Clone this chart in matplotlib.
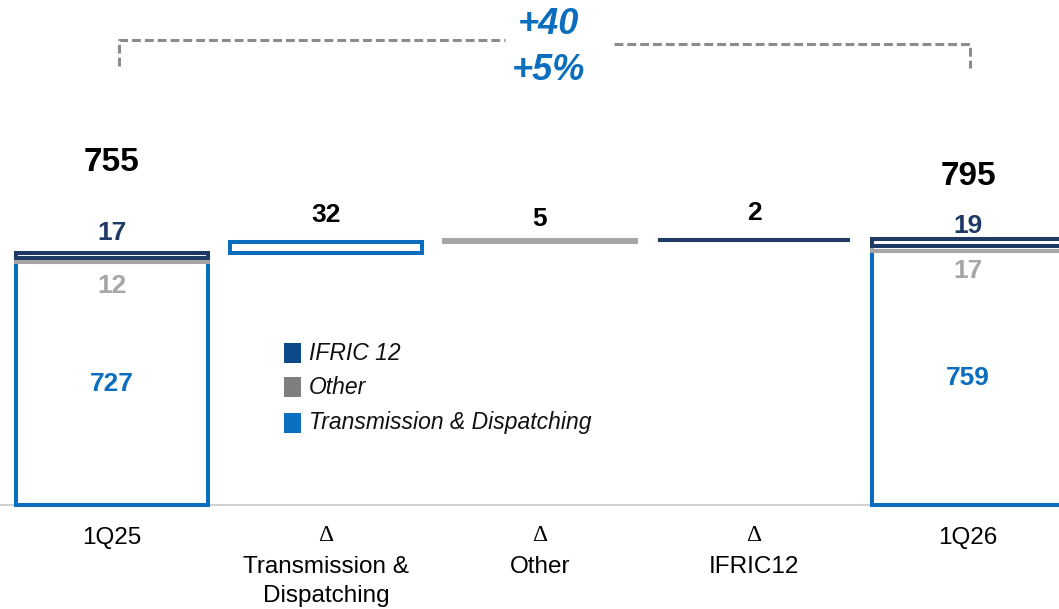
import matplotlib
matplotlib.use('Agg')
import matplotlib.pyplot as plt
from matplotlib.patches import Rectangle

plt.rcParams['font.family'] = ['Liberation Sans', 'DejaVu Sans']

# data
categories = ['1Q25', 'Transmission &\nDispatching', 'Other', 'IFRIC12', '1Q26']
is_delta = [False, True, True, True, False]
start_parts = [727, 12, 17]      # T&D, Other, IFRIC 12
end_parts = [759, 17, 19]
totals = [755, 795]
deltas = [32, 5, 2]
legend_names = ['IFRIC 12', 'Other', 'Transmission & Dispatching']

blue = '#0b6dbd'
navy = '#1f3a64'
gray_bar = '#a6a6a6'
gray_txt = '#a6a6a6'

fig = plt.figure(figsize=(10.59, 6.09), dpi=100)
ax = fig.add_axes([0, 104 / 609, 1, 505 / 609])
ax.set_xlim(-0.523, 4.425)
ax.set_ylim(0, 1512)
ax.axis('off')
ax.axhline(0, color='#c8c8c8', lw=1.2, clip_on=False, zorder=1)

W = 0.9
LW = 2.9


def stacked(x, parts, total):
    td, oth, ifr = parts
    ax.bar(x, td, width=W, bottom=0, facecolor='white', edgecolor=blue, lw=LW, zorder=3,
           clip_on=False)
    ax.bar(x, oth, width=W, bottom=td, facecolor='white', edgecolor=gray_bar, lw=LW, zorder=3)
    ax.bar(x, ifr, width=W, bottom=td + oth, facecolor='white', edgecolor=navy, lw=LW, zorder=4)
    top = td + oth + ifr
    ax.annotate(str(total), (x, total), xytext=(0, 65 if x == 0 else 45), textcoords='offset points',
                ha='center', va='center', fontsize=24, fontweight='bold', color='black')
    ax.annotate(str(ifr), (x, top), xytext=(0, 14 if x == 0 else 9.5), textcoords='offset points',
                ha='center', va='center', fontsize=19, fontweight='bold', color=navy)
    ax.annotate(str(oth), (x, td), xytext=(0, -17.5 if x == 0 else -14), textcoords='offset points',
                ha='center', va='center', fontsize=19, fontweight='bold', color=gray_txt)
    ax.text(x, td / 2, str(td), ha='center', va='center', fontsize=19, fontweight='bold', color=blue)


stacked(0, start_parts, totals[0])
stacked(4, end_parts, totals[1])

# waterfall deltas
styles = [('white', blue), (gray_bar, gray_bar), (navy, navy)]
offs = [19.5, 15.5, 19.5]
base = totals[0]
for i, d in enumerate(deltas):
    fc, ec = styles[i]
    ax.bar(i + 1, d, width=W, bottom=base, facecolor=fc, edgecolor=ec, lw=LW, zorder=3)
    ax.annotate(str(d), (i + 1, base + d), xytext=(0, offs[i]), textcoords='offset points',
                ha='center', va='center', fontsize=19, fontweight='bold', color='black')
    base += d

# category labels
for i, (c, dl) in enumerate(zip(categories, is_delta)):
    if dl:
        ax.annotate('Δ', (i, 0), xytext=(0, -22), textcoords='offset points', ha='center',
                    va='center', fontsize=17, family=['Liberation Serif'], annotation_clip=False)
        ax.annotate(c, (i, 0), xytext=(0, -37), textcoords='offset points', ha='center',
                    va='top', fontsize=17.5, linespacing=1.4, annotation_clip=False)
    else:
        ax.annotate(c, (i, 0), xytext=(0, -23.5), textcoords='offset points', ha='center',
                    va='center', fontsize=17.5, annotation_clip=False)

# bracket with change
diff = totals[1] - totals[0]
pct = diff / totals[0] * 100
dash = dict(color='#8c8c8c', lw=2.2, dashes=(2.9, 1.3), clip_on=False)
ax.plot([0.033, 0.033, 1.836], [1314, 1392, 1392], **dash)
ax.plot([2.346, 4.01, 4.01], [1380, 1380, 1308], **dash)
ax.text(2.04, 1440, f'+{diff}', ha='center', va='center', fontsize=26, fontweight='bold',
        style='italic', color=blue)
ax.text(2.04, 1302, f'+{pct:.0f}%', ha='center', va='center', fontsize=26, fontweight='bold',
        style='italic', color=blue)

# legend
leg_colors = ['#0d4a8a', '#7f7f7f', '#0b6fc2']
leg_y = [353, 387, 423]
for name, col, y in zip(legend_names, leg_colors, leg_y):
    fig.patches.append(Rectangle((284 / 1059, (609 - y - 10) / 609), 17 / 1059, 20 / 609,
                                 transform=fig.transFigure, facecolor=col, edgecolor='none'))
    fig.text(309 / 1059, (609 - y) / 609, name, ha='left', va='center', fontsize=16.5,
             style='italic', color='#111111')

fig.savefig('out.png', dpi=100)
